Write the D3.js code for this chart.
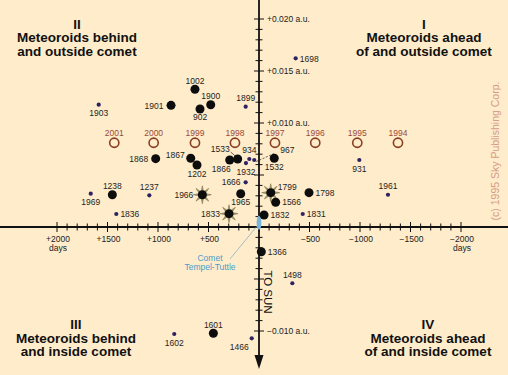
<!DOCTYPE html>
<html>
<head>
<meta charset="utf-8">
<script src="https://cdn.jsdelivr.net/npm/d3@7"></script>
<style>
  body { margin: 0; background: #feecca; }
  svg { display: block; font-family: "Liberation Sans", Arial, sans-serif; }
</style>
</head>
<body>
<svg id="chart" width="508" height="375"></svg>
<script>
// meteoroid streams: name (year of ejection), time from comet (days), distance from comet orbit (a.u.)
const meteorNames = ["1002","1901","1900","902","1899","1903","1698",
    "1868","1867","1202","1866","1533","934","1932","967","1532","931",
    "1666","1965","1966","1833","1238","1237","1969","1836",
    "1799","1566","1798","1961","1832","1831",
    "1366","1498","1602","1601","1466"];
const meteorDays = [634, 871, 478, 584, 132, 1587, -363,
    1023, 676, 614, 290, 211, 96, 129, 47, -151, -993,
    132, 181, 561, 297, 1452, 1086, 1666, 1413,
    -116, -165, -495, -1277, -50, -433,
    -23, -330, 839, 452, 72];
const meteorAu = [0.01324, 0.0117, 0.01176, 0.01135, 0.01157, 0.01176, 0.01622,
    0.00657, 0.00661, 0.00596, 0.00644, 0.00654, 0.00654, 0.00615, 0.00644, 0.00661, 0.00644,
    0.0043, 0.0032, 0.0031, 0.00128, 0.0031, 0.00305, 0.0032, 0.00125,
    0.0033, 0.00238, 0.0033, 0.0031, 0.00115, 0.00125,
    -0.00238, -0.00541, -0.01029, -0.01022, -0.0107];
const meteorType = ["big","big","big","big","small","small","small",
    "big","big","big","big","big","small","small","small","big","small",
    "small","big","storm","storm","big","small","small","small",
    "storm","big","big","small","big","small",
    "big","small","small","big","small"];

// earth passages of the node, 1994-2001
const futureYears = ["2001","2000","1999","1998","1997","1996","1995","1994"];
const futureDays = [1433, 1043, 634, 238, -158, -557, -973, -1376];
const futureAu = [0.0081, 0.0081, 0.0081, 0.0081, 0.0081, 0.0081, 0.0081, 0.0081];

const xTickValues = [2000, 1500, 1000, 500, -500, -1000, -1500, -2000];
const xTickLabels = ["+2000", "+1500", "+1000", "+500", "\u2212500", "\u22121000", "\u22121500", "\u22122000"];
const yTickValues = [0.020, 0.015, 0.010, -0.010];
const yTickLabels = ["+0.020 a.u.", "+0.015 a.u.", "+0.010 a.u.", "\u22120.010 a.u."];

const quadrants = [
    {lines: ["II", "Meteoroids behind", "and outside comet"], x: 77, y: 28.5},
    {lines: ["I", "Meteoroids ahead", "of and outside comet"], x: 424, y: 28.5},
    {lines: ["III", "Meteoroids behind", "and inside comet"], x: 76, y: 329},
    {lines: ["IV", "Meteoroids ahead", "of and inside comet"], x: 428, y: 329}
];

// where each label sits around its dot
const labelSide = {
    "1002":"t","1901":"l","1900":"t","902":"b","1899":"t","1903":"b","1698":"r",
    "1868":"l","1867":"lt","1202":"b","1866":"bl","1533":"lead","934":"t","1932":"b","967":"dash",
    "1532":"b","931":"b","1666":"l","1965":"b","1966":"l","1833":"l","1238":"t","1237":"t",
    "1969":"b","1836":"r","1799":"rt","1566":"r","1798":"r","1961":"t","1832":"r","1831":"r",
    "1366":"r","1498":"t","1602":"b","1601":"t","1466":"lb"
};

const svg = d3.select("#chart");
const width = +svg.attr("width"), height = +svg.attr("height");

const x = d3.scaleLinear().domain([2000, -2000]).range([57, 461]);
const y = d3.scaleLinear().domain([-0.010, 0.020]).range([331, 19]);
const x0 = x(0), y0 = y(0);

svg.append("rect").attr("width", width).attr("height", height).attr("fill", "#feecca");

// quadrant titles
quadrants.forEach(q => {
    svg.append("g").selectAll("text")
        .data(q.lines)
        .enter()
        .append("text")
        .attr("x", q.x)
        .attr("y", (d, i) => q.y + i * 13.6)
        .attr("text-anchor", "middle")
        .style("font-size", "13.5px")
        .style("font-weight", "bold")
        .style("fill", "#111")
        .text(d => d);
});

// axes
const axes = svg.append("g");
axes.append("line")
    .attr("x1", 0).attr("x2", width)
    .attr("y1", y0).attr("y2", y0)
    .attr("stroke", "#111").attr("stroke-width", 1.8);
axes.append("line")
    .attr("x1", x0).attr("x2", x0)
    .attr("y1", 0).attr("y2", 358)
    .attr("stroke", "#111").attr("stroke-width", 1.8);
axes.append("path")
    .attr("d", `M${x0 - 4.5},355 L${x0 + 4.5},355 L${x0},369 Z`)
    .attr("fill", "#111");

axes.selectAll(".xminor")
    .data(d3.range(-2000, 2001, 100))
    .enter()
    .append("line")
    .attr("x1", d => x(d)).attr("x2", d => x(d))
    .attr("y1", d => d % 500 == 0 ? y0 - 5 : y0 - 3.5)
    .attr("y2", d => d % 500 == 0 ? y0 + 5 : y0 + 3.5)
    .attr("stroke", "#111").attr("stroke-width", 1);

axes.selectAll(".yminor")
    .data(d3.range(-10, 21, 1))
    .enter()
    .append("line")
    .attr("x1", d => d % 5 == 0 && d != 0 ? x0 - 5 : x0 - 3.5)
    .attr("x2", d => d % 5 == 0 && d != 0 ? x0 + 5 : x0 + 3.5)
    .attr("y1", d => y(d / 1000)).attr("y2", d => y(d / 1000))
    .attr("stroke", "#111").attr("stroke-width", 1);

axes.selectAll(".xlabel")
    .data(xTickValues)
    .enter()
    .append("text")
    .attr("x", d => x(d) + 1)
    .attr("y", y0 + 15)
    .attr("text-anchor", "middle")
    .style("font-size", "8.5px")
    .style("fill", "#222")
    .text((d, i) => xTickLabels[i]);

[2000, -2000].forEach(d => {
    axes.append("text")
        .attr("x", x(d) + 1)
        .attr("y", y0 + 24)
        .attr("text-anchor", "middle")
        .style("font-size", "8.5px")
        .style("fill", "#222")
        .text("days");
});

axes.selectAll(".ylabel")
    .data(yTickValues)
    .enter()
    .append("text")
    .attr("x", x0 + 8)
    .attr("y", d => y(d) + 3)
    .style("font-size", "8.5px")
    .style("fill", "#222")
    .text((d, i) => yTickLabels[i]);

axes.append("text")
    .attr("transform", `translate(${x0 + 5},292) rotate(90)`)
    .attr("text-anchor", "middle")
    .style("font-size", "11.5px")
    .style("fill", "#111")
    .text("TO SUN");

// copyright
svg.append("text")
    .attr("transform", "translate(499,151) rotate(-90)")
    .attr("text-anchor", "middle")
    .style("font-size", "10.5px")
    .style("fill", "#d49c8a")
    .text("(c) 1995 Sky Publishing Corp.");

// comet
svg.append("ellipse")
    .attr("cx", x(0)).attr("cy", y(0.0004))
    .attr("rx", 2.4).attr("ry", 7)
    .attr("fill", "#78b6dc");
svg.append("line")
    .attr("x1", 230).attr("y1", 259)
    .attr("x2", x(0) - 1).attr("y2", y(0.0002))
    .attr("stroke", "#7fa8c0").attr("stroke-width", 0.7);
svg.append("text")
    .attr("x", 210).attr("y", 260.5)
    .attr("text-anchor", "middle")
    .style("font-size", "8.5px").style("fill", "#4a9cca")
    .text("Comet");
svg.append("text")
    .attr("x", 210).attr("y", 269.5)
    .attr("text-anchor", "middle")
    .style("font-size", "8.5px").style("fill", "#4a9cca")
    .text("Tempel-Tuttle");

// earth passages
const future = futureYears.map((d, i) => ({year: d, days: futureDays[i], au: futureAu[i]}));
const fg = svg.append("g");
fg.selectAll("circle")
    .data(future)
    .enter()
    .append("circle")
    .attr("cx", d => x(d.days)).attr("cy", d => y(d.au))
    .attr("r", 4.6)
    .attr("fill", "none")
    .attr("stroke", "#8a3f22").attr("stroke-width", 1.6);
fg.selectAll("text")
    .data(future)
    .enter()
    .append("text")
    .attr("x", d => x(d.days))
    .attr("y", d => y(d.au) - 7)
    .attr("text-anchor", "middle")
    .style("font-size", "8.5px")
    .style("fill", "#9a4a3a")
    .text(d => d.year);

// meteoroid streams
const meteors = meteorNames.map((d, i) => ({name: d, days: meteorDays[i], au: meteorAu[i], type: meteorType[i]}));

function starPath(ro, ri, n) {
    let pts = [];
    for (let k = 0; k < n * 2; k++) {
        let a = Math.PI * k / n - Math.PI / 2;
        let r = k % 2 == 0 ? ro : ri;
        pts.push([r * Math.cos(a), r * Math.sin(a)]);
    }
    return "M" + pts.map(p => p[0].toFixed(2) + "," + p[1].toFixed(2)).join("L") + "Z";
}

const mg = svg.append("g");
const marks = mg.selectAll("g")
    .data(meteors)
    .enter()
    .append("g")
    .attr("transform", d => "translate(" + x(d.days) + "," + y(d.au) + ")");

marks.filter(d => d.type == "storm")
    .append("path")
    .attr("d", starPath(9, 3.2, 8))
    .attr("fill", "#a39c6c")
    .attr("stroke", "#6d6640").attr("stroke-width", 0.5);

marks.append("circle")
    .attr("r", d => d.type == "small" ? 2.1 : 4.5)
    .attr("fill", d => d.type == "small" ? "#2e2262" : "#0d0d0d");

function labelPlace(side, r) {
    switch (side) {
        case "t": return ["middle", 0, -5.5];
        case "b": return ["middle", 0, 11.5];
        case "l": return ["end", -(r + 3), 3.2];
        case "r": return ["start", r + 2, 3.2];
        case "lt": return ["end", -6, 0];
        case "rt": return ["start", 7, -3];
        case "bl": return ["end", 1, 11.5];
        case "lb": return ["end", -3, 11.5];
        case "lead": return ["end", -8, -6.7];
        case "dash": return ["start", 26, -7];
    }
}

marks.append("text")
    .each(function(d) {
        let r = d.type == "small" ? 2.1 : (d.type == "storm" ? 6 : 4.5);
        let p = labelPlace(labelSide[d.name], r);
        d3.select(this)
            .attr("text-anchor", p[0])
            .attr("x", p[1])
            .attr("y", p[2]);
    })
    .style("font-size", "8.5px")
    .style("fill", "#1e1e1e")
    .text(d => d.name);

// leader lines for the crowded group
marks.filter(d => labelSide[d.name] == "lead")
    .append("line")
    .attr("x1", -7).attr("y1", -7)
    .attr("x2", -2).attr("y2", -2.5)
    .attr("stroke", "#222").attr("stroke-width", 0.7);
marks.filter(d => labelSide[d.name] == "dash")
    .append("line")
    .attr("x1", 2).attr("y1", 1.5)
    .attr("x2", 20).attr("y2", -6.5)
    .attr("stroke", "#222").attr("stroke-width", 0.7)
    .attr("stroke-dasharray", "2,1.5");
</script>
</body>
</html>
